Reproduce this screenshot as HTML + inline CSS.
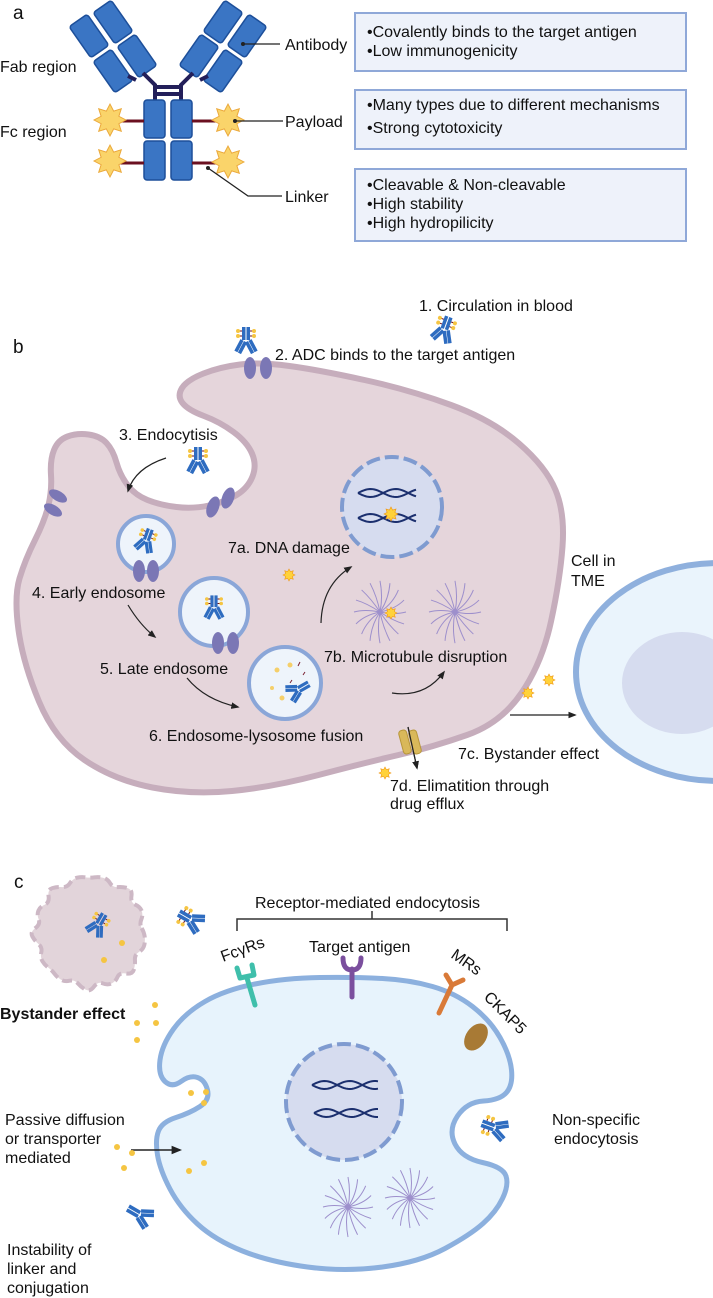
<!DOCTYPE html>
<html><head><meta charset="utf-8"><style>
html,body{margin:0;padding:0;background:#fff}
svg{display:block}
text{font-family:"Liberation Sans",Arial,sans-serif;font-size:16px;fill:#111}
</style></head><body>
<svg width="713" height="1298" viewBox="0 0 713 1298" xmlns="http://www.w3.org/2000/svg">
<defs>
<marker id="ah" viewBox="0 0 10 10" refX="8" refY="5" markerWidth="7" markerHeight="7" orient="auto"><path d="M0,1 L10,5 L0,9 z" fill="#222"/></marker>
<polygon id="star" points="1,0 0.554,0.23 0.707,0.707 0.23,0.554 0,1 -0.23,0.554 -0.707,0.707 -0.554,0.23 -1,0 -0.554,-0.23 -0.707,-0.707 -0.23,-0.554 0,-1 0.23,-0.554 0.707,-0.707 0.554,-0.23"/>
<g id="adc">
 <rect x="-4" y="-14" width="3.5" height="13" fill="#2e6cc0"/>
 <rect x="0.5" y="-14" width="3.5" height="13" fill="#2e6cc0"/>
 <g transform="translate(-2,0) rotate(28)"><rect x="-4" y="0" width="3.5" height="13" fill="#2e6cc0"/><rect x="0" y="0" width="3.5" height="13" fill="#2e6cc0"/></g>
 <g transform="translate(2,0) rotate(-28)"><rect x="-3.5" y="0" width="3.5" height="13" fill="#2e6cc0"/><rect x="0.5" y="0" width="3.5" height="13" fill="#2e6cc0"/></g>
 <path d="M-4,-10 H-7 M-4,-5 H-7 M4,-10 H7 M4,-5 H7" stroke="#6b1020" stroke-width="1"/>
 <circle cx="-8" cy="-10" r="2" fill="#f5c542"/><circle cx="-8" cy="-5" r="2" fill="#f5c542"/>
 <circle cx="8" cy="-10" r="2" fill="#f5c542"/><circle cx="8" cy="-5" r="2" fill="#f5c542"/>
</g>
<g id="ab">
 <rect x="-4" y="-14" width="3.5" height="13" fill="#2e6cc0"/>
 <rect x="0.5" y="-14" width="3.5" height="13" fill="#2e6cc0"/>
 <g transform="translate(-2,0) rotate(28)"><rect x="-4" y="0" width="3.5" height="13" fill="#2e6cc0"/><rect x="0" y="0" width="3.5" height="13" fill="#2e6cc0"/></g>
 <g transform="translate(2,0) rotate(-28)"><rect x="-3.5" y="0" width="3.5" height="13" fill="#2e6cc0"/><rect x="0.5" y="0" width="3.5" height="13" fill="#2e6cc0"/></g>
</g>
</defs>

<!-- PANEL A -->
<text x="13" y="19" style="font-size:19px">a</text>
<text x="0" y="72">Fab region</text>
<text x="0" y="137">Fc region</text>
<g fill="#3a75c4" stroke="#1d4f9a" stroke-width="1.5">
 <rect x="-11" y="-19" width="22" height="38" rx="3" transform="translate(89,36) rotate(-35)"/>
 <rect x="-11" y="-19" width="22" height="38" rx="3" transform="translate(113,71) rotate(-35)"/>
 <rect x="-11" y="-19" width="22" height="38" rx="3" transform="translate(113,22) rotate(-35)"/>
 <rect x="-11" y="-19" width="22" height="38" rx="3" transform="translate(137,56) rotate(-35)"/>
 <rect x="-11" y="-19" width="22" height="38" rx="3" transform="translate(247,36) rotate(35)"/>
 <rect x="-11" y="-19" width="22" height="38" rx="3" transform="translate(223,71) rotate(35)"/>
 <rect x="-11" y="-19" width="22" height="38" rx="3" transform="translate(223,22) rotate(35)"/>
 <rect x="-11" y="-19" width="22" height="38" rx="3" transform="translate(199,56) rotate(35)"/>
</g>
<g stroke="#231f5a" stroke-width="4" fill="none">
 <path d="M143,73 L155,85 L155,100 M181,100 L181,85 L193,73 M128,76 L136,80 M208,76 L200,80 M155,87 H181 M155,94 H181"/>
</g>
<g fill="#3a75c4" stroke="#1d4f9a" stroke-width="1.5">
 <rect x="144" y="100" width="21" height="38" rx="3"/><rect x="144" y="141" width="21" height="39" rx="3"/>
 <rect x="171" y="100" width="21" height="38" rx="3"/><rect x="171" y="141" width="21" height="39" rx="3"/>
</g>
<path d="M118,121 H144 M118,163 H144 M192,121 H220 M192,163 H220" stroke="#6b1020" stroke-width="3"/>
<g fill="#fad46a" stroke="#eba83a" stroke-width="0.06">
 <use href="#star" transform="translate(110,120) scale(16)"/>
 <use href="#star" transform="translate(110,161) scale(16)"/>
 <use href="#star" transform="translate(228,120) scale(16)"/>
 <use href="#star" transform="translate(228,162) scale(16)"/>
</g>
<g stroke="#222" stroke-width="1.3" fill="none"><path d="M243,44 H280 M235,121 H283 M208,168 L248,196 H282"/></g>
<g fill="#222"><circle cx="243" cy="44" r="2"/><circle cx="235" cy="121" r="2"/><circle cx="208" cy="168" r="2"/></g>
<text x="285" y="50">Antibody</text>
<text x="285" y="127">Payload</text>
<text x="285" y="202">Linker</text>
<g fill="#eef2fa" stroke="#8fa8d8" stroke-width="2">
 <rect x="355" y="13" width="331" height="58"/><rect x="355" y="90" width="331" height="59"/><rect x="355" y="169" width="331" height="72"/>
</g>
<g style="font-size:15.5px">
<text x="367" y="37">•Covalently binds to the target antigen</text>
<text x="367" y="56">•Low immunogenicity</text>
<text x="367" y="110">•Many types due to different mechanisms</text>
<text x="367" y="133">•Strong cytotoxicity</text>
<text x="367" y="190">•Cleavable &amp; Non-cleavable</text>
<text x="367" y="209">•High stability</text>
<text x="367" y="228">•High hydropilicity</text>
</g>

<!-- PANEL B -->
<text x="13" y="353" style="font-size:19px">b</text>
<text x="419" y="311">1.  Circulation in blood</text>
<use href="#adc" transform="translate(444,330) rotate(20)"/>
<use href="#adc" transform="translate(246,341)"/>
<path id="cellb" fill="#e5d5db" stroke="#c6adbc" stroke-width="6" stroke-linejoin="round"/>
<g fill="#7b77b5">
 <ellipse cx="250" cy="368" rx="6" ry="11"/><ellipse cx="266" cy="368" rx="6" ry="11"/>
 <ellipse cx="58" cy="496" rx="5" ry="10" transform="rotate(-60 58 496)"/><ellipse cx="53" cy="510" rx="5" ry="10" transform="rotate(-60 53 510)"/>
 <ellipse cx="213" cy="507" rx="6" ry="11" transform="rotate(20 213 507)"/><ellipse cx="228" cy="498" rx="6" ry="11" transform="rotate(20 228 498)"/>
</g>
<text x="275" y="360">2. ADC binds to the target antigen</text>
<text x="119" y="440">3. Endocytisis</text>
<use href="#adc" transform="translate(198,461)"/>
<path d="M166,458 Q135,468 128,491" stroke="#222" stroke-width="1.2" fill="none" marker-end="url(#ah)"/>
<!-- nucleus -->
<circle cx="392" cy="507" r="50" fill="#d6dcef" stroke="#7f9bd0" stroke-width="4" stroke-dasharray="14 5"/>
<path id="dna1" fill="none" stroke="#1b2f6e" stroke-width="2"/>
<!-- endosomes -->
<g fill="#eef4fb" stroke="#8aa6d8" stroke-width="4">
 <circle cx="146" cy="544" r="28"/><circle cx="214" cy="612" r="34"/><circle cx="285" cy="683" r="36"/>
</g>
<use href="#adc" transform="translate(146,541) rotate(20) scale(0.9)"/>
<use href="#adc" transform="translate(214,608) scale(0.9)"/>
<use href="#ab" transform="translate(298,690) rotate(60) scale(0.9)"/>
<g fill="#f5cf6a"><circle cx="277" cy="670" r="2.5"/><circle cx="290" cy="665" r="2.5"/><circle cx="282" cy="698" r="2.5"/><circle cx="272" cy="688" r="2"/></g>
<path d="M300,662 l-2,4 M292,680 l-2,3 M305,672 l-2,3" stroke="#7a2030" stroke-width="1"/>
<g fill="#7b77b5">
 <ellipse cx="139" cy="571" rx="6" ry="11"/><ellipse cx="153" cy="571" rx="6" ry="11"/>
 <ellipse cx="218" cy="643" rx="6" ry="11"/><ellipse cx="233" cy="643" rx="6" ry="11"/>
</g>
<g id="astersb" stroke="#9d8fcc" stroke-width="1" fill="none"></g>
<g fill="#ffd23a" stroke="#f09a1a" stroke-width="0.1">
 <use href="#star" transform="translate(391,514) scale(7)"/>
 <use href="#star" transform="translate(391,613) scale(6)"/>
 <use href="#star" transform="translate(289,575) scale(6)"/>
 <use href="#star" transform="translate(528,693) scale(6)"/>
 <use href="#star" transform="translate(549,680) scale(6)"/>
 <use href="#star" transform="translate(385,773) scale(6)"/>
</g>
<text x="228" y="553">7a. DNA damage</text>
<text x="32" y="598">4. Early endosome</text>
<text x="100" y="674">5. Late endosome</text>
<text x="324" y="662">7b. Microtubule disruption</text>
<text x="149" y="741">6. Endosome-lysosome fusion</text>
<text x="458" y="759">7c. Bystander effect</text>
<text x="390" y="791">7d. Elimatition through</text>
<text x="390" y="809">drug efflux</text>
<text x="571" y="566">Cell in</text>
<text x="571" y="586">TME</text>
<g stroke="#222" stroke-width="1.2" fill="none" marker-end="url(#ah)">
 <path d="M128,605 Q140,625 155,637"/>
 <path d="M187,678 Q205,700 238,707"/>
 <path d="M321,623 Q322,585 351,567"/>
 <path d="M392,693 Q425,698 444,672"/>
 <path d="M510,715 H575"/>
 <path d="M408,727 L417,768"/>
</g>
<g fill="#d9b85a" stroke="#b8963a" stroke-width="1">
 <rect x="401" y="730" width="8" height="24" rx="3" transform="rotate(-15 405 742)"/>
 <rect x="411" y="730" width="8" height="24" rx="3" transform="rotate(-15 415 742)"/>
</g>
<path d="M408,727 L417,768" stroke="#222" stroke-width="1.2" fill="none" marker-end="url(#ah)"/>
<!-- TME cell -->
<ellipse cx="718" cy="672" rx="142" ry="109" fill="#eaf4fc" stroke="#8fb0dd" stroke-width="6"/>
<ellipse cx="682" cy="683" rx="60" ry="51" fill="#d6dcef"/>

<!-- PANEL C -->
<text x="14" y="888" style="font-size:19px">c</text>
<path id="debris" fill="#e2d4da" stroke="#cdb8c5" stroke-width="4" stroke-dasharray="10 5"/>
<use href="#adc" transform="translate(98,925) rotate(30) scale(0.9)"/>
<g fill="#f5c542"><circle cx="122" cy="943" r="3"/><circle cx="104" cy="960" r="3"/></g>
<use href="#adc" transform="translate(191,920) rotate(-60)"/>
<text x="0" y="1019" style="font-weight:bold">Bystander effect</text>
<g fill="#f5c542"><circle cx="155" cy="1005" r="3"/><circle cx="137" cy="1023" r="3"/><circle cx="156" cy="1023" r="3"/><circle cx="137" cy="1040" r="3"/></g>
<text x="255" y="908">Receptor-mediated endocytosis</text>
<path d="M237,931 V919 H507 V931 M372,919 V911" stroke="#333" stroke-width="1.5" fill="none"/>
<path id="cellc" fill="#e7f3fc" stroke="#8cb0de" stroke-width="5" stroke-linejoin="round"/>
<path d="M255,1005 L247,978 M237,968 L240,978 L254,975 L252,965" stroke="#3fbfab" stroke-width="5" stroke-linecap="round" stroke-linejoin="round" fill="none"/>
<path d="M352,997 L352,969 M343,958 Q343,970 352,970 Q361,970 361,958" stroke="#7b4f9e" stroke-width="5" stroke-linecap="round" fill="none"/>
<path d="M439,1013 L452,985 M452,985 L446,975 M452,985 L463,980" stroke="#d97a38" stroke-width="5" stroke-linecap="round" fill="none"/>
<ellipse cx="476" cy="1037" rx="10" ry="15" transform="rotate(35 476 1037)" fill="#a87a35"/>
<text x="0" y="0" transform="translate(223,962) rotate(-20)">FcγRs</text>
<text x="309" y="952">Target antigen</text>
<text x="0" y="0" transform="translate(450,957) rotate(35)">MRs</text>
<text x="0" y="0" transform="translate(483,998) rotate(45)">CKAP5</text>
<circle cx="344" cy="1102" r="58" fill="#d6dcef" stroke="#7f9bd0" stroke-width="4" stroke-dasharray="14 5"/>
<path id="dna2" fill="none" stroke="#1b2f6e" stroke-width="2"/>
<g id="astersc" stroke="#9d8fcc" stroke-width="1" fill="none"></g>
<text x="5" y="1125">Passive diffusion</text>
<text x="5" y="1144">or transporter</text>
<text x="5" y="1163">mediated</text>
<path d="M131,1150 H180" stroke="#222" stroke-width="1.5" marker-end="url(#ah)"/>
<g fill="#f5c542"><circle cx="191" cy="1093" r="3"/><circle cx="206" cy="1092" r="3"/><circle cx="204" cy="1103" r="3"/><circle cx="117" cy="1147" r="3"/><circle cx="132" cy="1153" r="3"/><circle cx="124" cy="1168" r="3"/><circle cx="189" cy="1171" r="3"/><circle cx="204" cy="1163" r="3"/></g>
<text x="552" y="1125">Non-specific</text>
<text x="554" y="1144">endocytosis</text>
<use href="#adc" transform="translate(495,1128) rotate(-70)"/>
<use href="#ab" transform="translate(140,1215) rotate(-60)"/>
<text x="7" y="1255">Instability of</text>
<text x="7" y="1274">linker and</text>
<text x="7" y="1293">conjugation</text>
</svg>
<script>
function smooth(p){var n=p.length,d="";function m(a,b){return[(a[0]+b[0])/2,(a[1]+b[1])/2]}
var s=m(p[n-1],p[0]);d="M"+s[0]+","+s[1];for(var i=0;i<n;i++){var q=m(p[i],p[(i+1)%n]);d+=" Q"+p[i][0]+","+p[i][1]+" "+q[0]+","+q[1];}return d+"Z";}
document.getElementById("cellb").setAttribute("d",smooth([[187,380],[220,367],[260,362],[319,370],[410,390],[492,420],[546,467],[565,513],[560,580],[542,663],[501,723],[433,747],[364,763],[273,787],[191,795],[114,780],[55,740],[23,663],[14,597],[25,560],[45,520],[52,490],[50,460],[58,440],[77,433],[100,436],[113,450],[120,475],[135,495],[160,505],[193,509],[225,502],[248,488],[257,465],[247,442],[220,422],[188,410],[177,396]]));
document.getElementById("cellc").setAttribute("d",smooth([[355,977],[410,980],[455,993],[490,1020],[510,1055],[513,1085],[500,1100],[467,1102],[448,1130],[462,1158],[503,1167],[509,1185],[496,1212],[470,1235],[420,1262],[345,1272],[270,1262],[215,1240],[180,1208],[160,1170],[155,1140],[162,1122],[190,1113],[210,1100],[205,1080],[190,1075],[172,1088],[158,1075],[162,1045],[185,1013],[225,990],[285,978]]));
var dp=[];for(var k=0;k<40;k++){var a=k/40*Math.PI*2,r=56+(k%3==0?-6:0)+(k%5==0?4:0);dp.push([90+r*Math.cos(a),932+r*Math.sin(a)]);}
document.getElementById("debris").setAttribute("d",smooth(dp));
function dna(x0,x1,y,amp){var a="",b="";for(var x=x0;x<=x1;x+=2){var t=(x-x0)/8;a+=(x==x0?"M":"L")+x+","+(y+amp*Math.sin(t));b+=(x==x0?"M":"L")+x+","+(y-amp*Math.sin(t));}return a+" "+b;}
document.getElementById("dna1").setAttribute("d",dna(358,416,493,4)+" "+dna(358,416,518,4));
document.getElementById("dna2").setAttribute("d",dna(312,378,1085,4)+" "+dna(314,378,1113,4));
function aster(g,cx,cy,r){var s="";for(var k=0;k<16;k++){var a=k/16*Math.PI*2;s+="M"+cx+","+cy+" Q"+(cx+r*0.6*Math.cos(a+0.2))+","+(cy+r*0.6*Math.sin(a+0.2))+" "+(cx+r*Math.cos(a))+","+(cy+r*Math.sin(a)*1.2)+" ";}var p=document.createElementNS("http://www.w3.org/2000/svg","path");p.setAttribute("d",s);g.appendChild(p);}
var gb=document.getElementById("astersb");aster(gb,380,612,26);aster(gb,455,612,26);
var gc=document.getElementById("astersc");aster(gc,348,1207,25);aster(gc,410,1198,25);
</script>
</body></html>
